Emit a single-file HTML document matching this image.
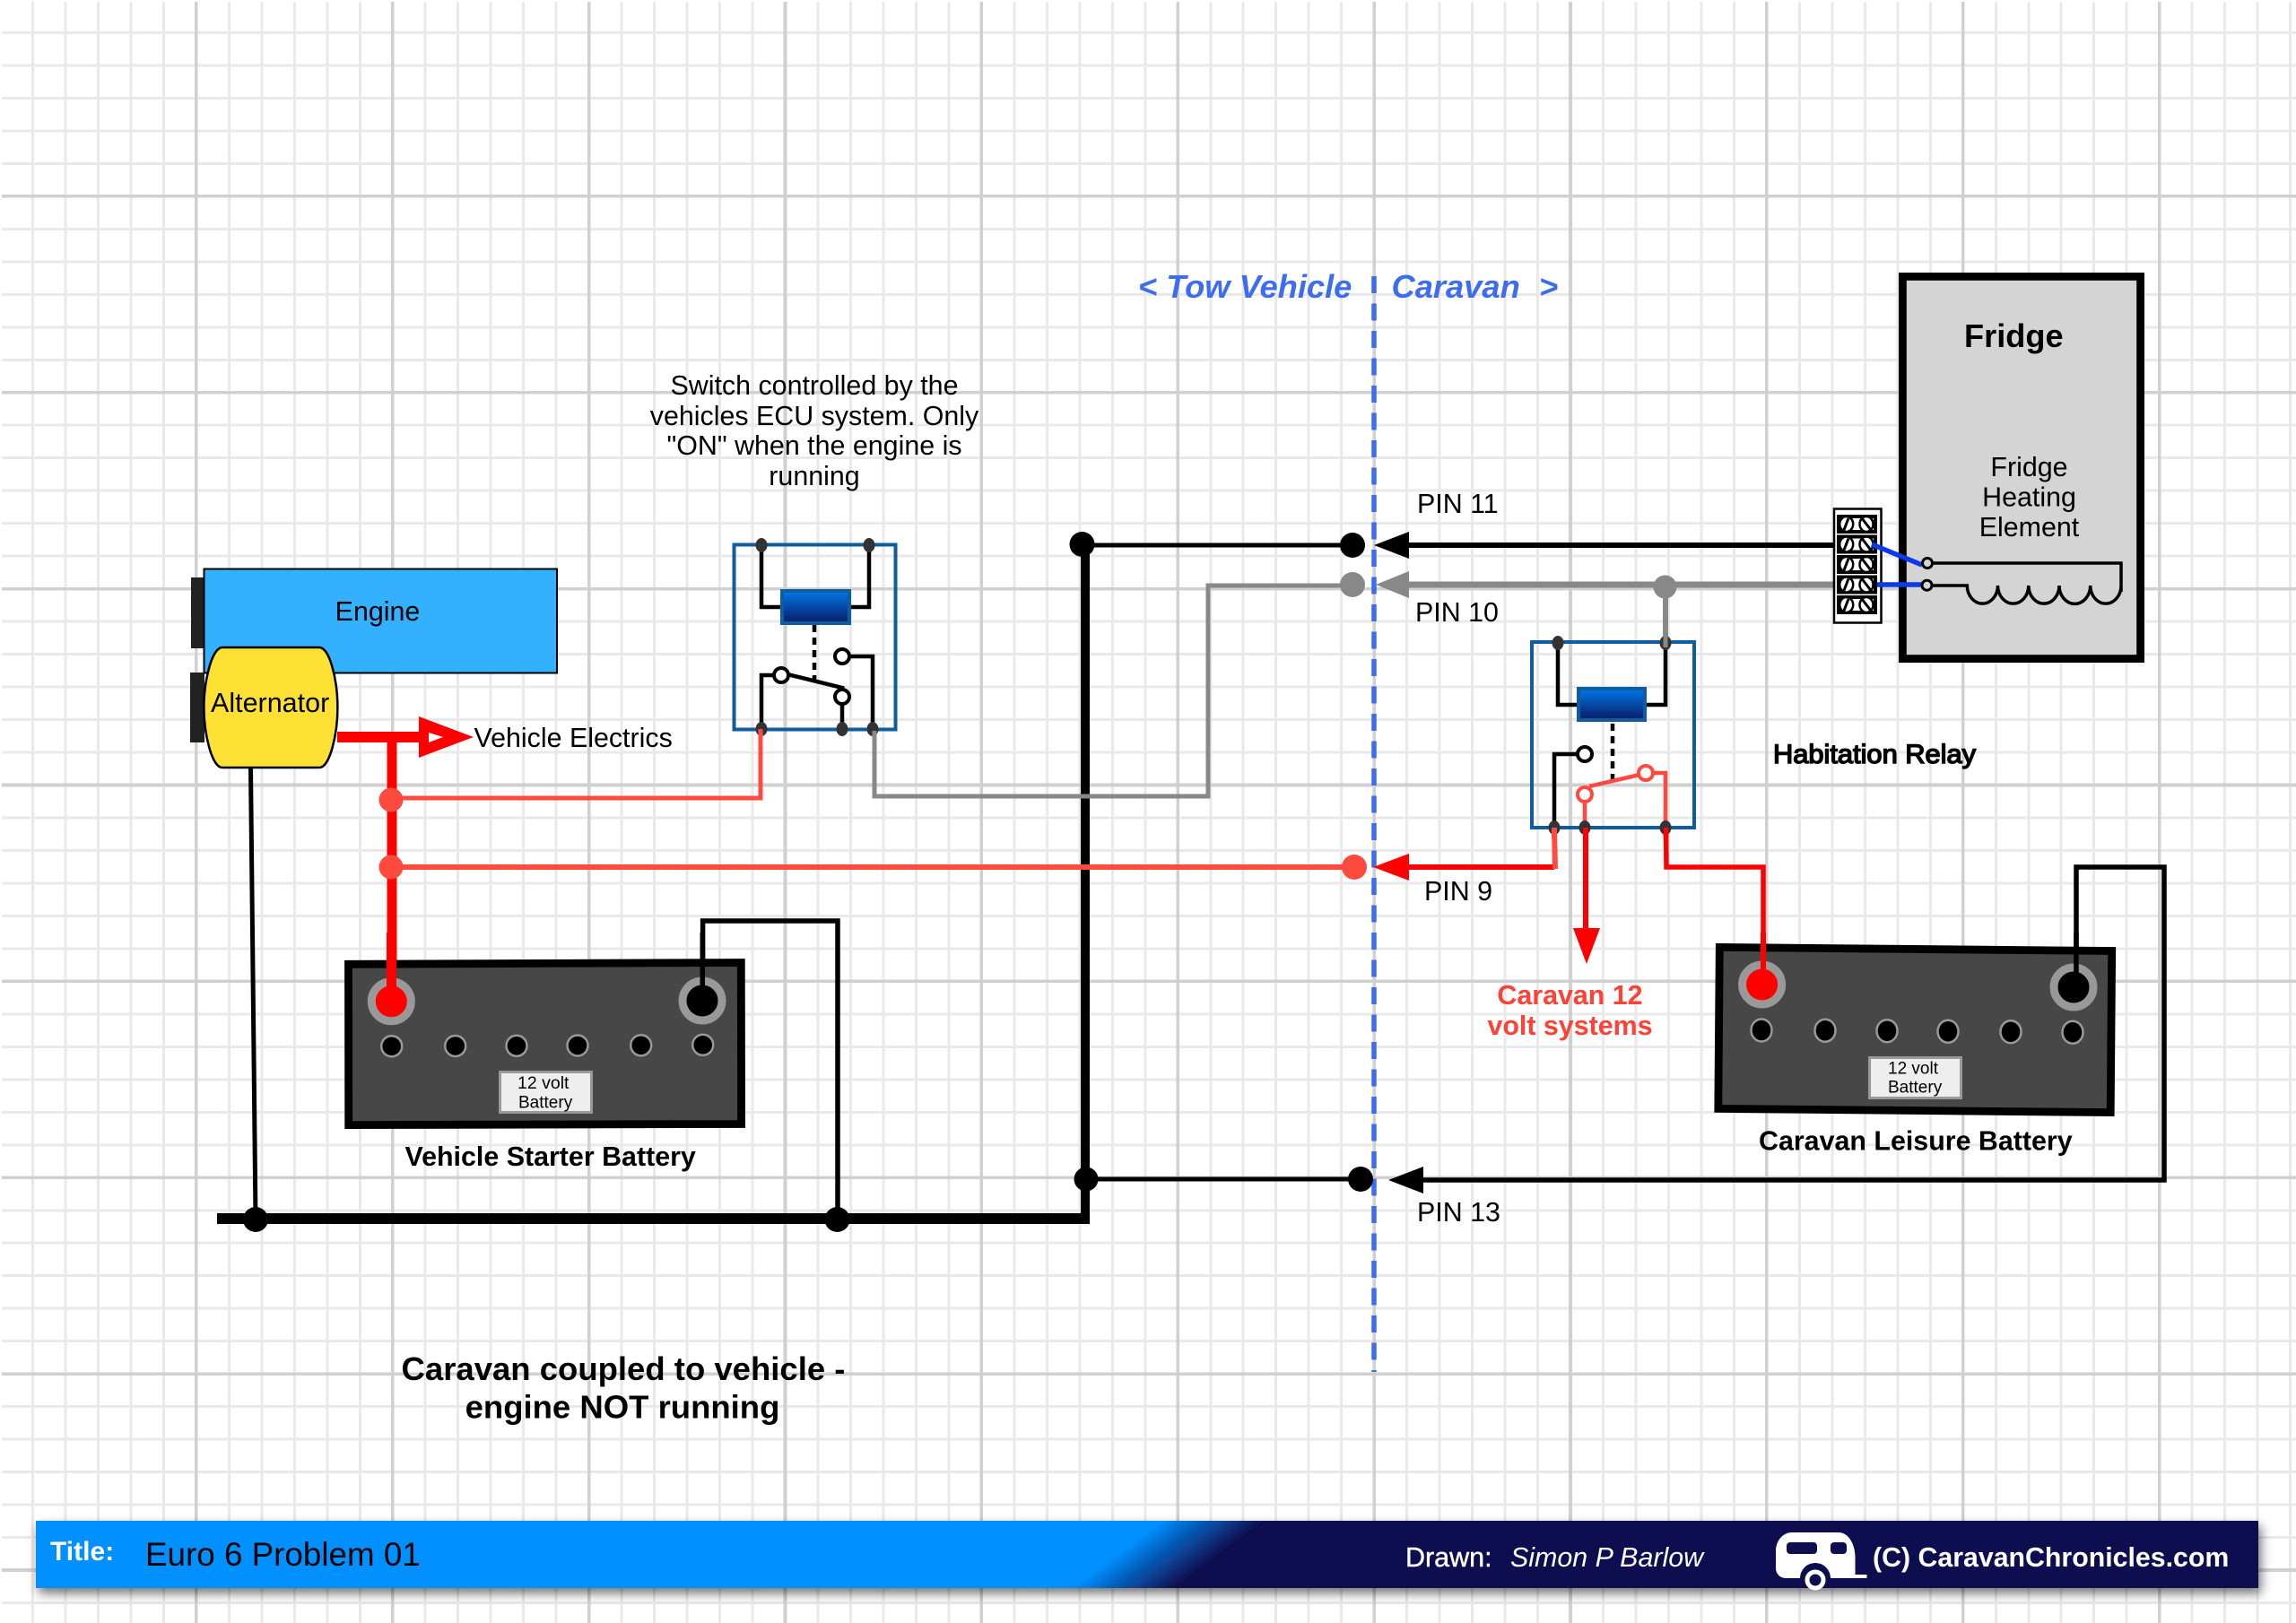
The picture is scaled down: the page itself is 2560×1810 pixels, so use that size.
<!DOCTYPE html>
<html lang="en">
<head>
<meta charset="utf-8">
<title>Euro 6 Problem 01</title>
<style>
html,body{margin:0;padding:0;background:#fff;}
body{width:2560px;height:1810px;overflow:hidden;position:relative;
background-color:#fff;
background-image:
repeating-linear-gradient(90deg,#d0d0d0 0 1.8px,transparent 1.8px 217.08px,#d0d0d0 217.08px 218.88px),
repeating-linear-gradient(180deg,#d0d0d0 0 1.8px,transparent 1.8px 217.08px,#d0d0d0 217.08px 218.88px),
repeating-linear-gradient(90deg,#e9e9e9 0 1.5px,transparent 1.5px 34.98px,#e9e9e9 34.98px 36.48px),
repeating-linear-gradient(180deg,#e9e9e9 0 1.5px,transparent 1.5px 34.98px,#e9e9e9 34.98px 36.48px);
}
svg{position:absolute;left:0;top:0;display:block;}
text{font-family:"Liberation Sans",Arial,sans-serif;fill:#000;}
.s30{font-size:30.4px;}
.b30{font-size:30.4px;font-weight:bold;}
.c{text-anchor:middle;}
.blue{font-size:36.3px;font-weight:bold;font-style:italic;fill:#3d6cf0;}
.w{fill:none;stroke:#000;stroke-width:4.5;stroke-linejoin:miter;stroke-linecap:square;}
.t{fill:#333;}
</style>
</head>
<body>
<svg width="2560" height="1810" viewBox="0 0 2560 1810" xmlns="http://www.w3.org/2000/svg">
<defs>
<linearGradient id="coil" x1="0" y1="0" x2="0" y2="1"><stop offset="0" stop-color="#0078e8"/><stop offset="1" stop-color="#0a1a66"/></linearGradient>
<linearGradient id="bar" gradientUnits="userSpaceOnUse" x1="1250" y1="1730" x2="1291" y2="1785"><stop offset="0" stop-color="#0090ff"/><stop offset="1" stop-color="#0d0f50"/></linearGradient>
<filter id="sh" x="-2%" y="-30%" width="104%" height="170%"><feDropShadow dx="3" dy="6" stdDeviation="6" flood-color="#000" flood-opacity="0.55"/></filter>
</defs>
<rect x="0" y="0" width="2" height="1810" fill="#fff"/>
<rect x="0" y="0" width="2560" height="2" fill="#fff"/>

<!-- Engine -->
<rect x="213" y="644" width="15" height="79" fill="#222"/>
<rect x="212" y="750" width="16" height="78" fill="#222"/>
<rect x="227.5" y="634.5" width="393.5" height="116" fill="#33b1ff" stroke="#000" stroke-width="2"/>
<text class="s30 c" x="421" y="692">Engine</text>
<path d="M248 722H356C368 722 376.4 760 376.4 789C376.4 818 368 856 356 856H248C236 856 227.4 818 227.4 789C227.4 760 236 722 248 722Z" fill="#ffe135" stroke="#000" stroke-width="2.5"/>
<text x="235" y="794" style="font-size:30.5px">Alternator</text>

<!-- Blue divider -->
<line x1="1532" y1="308" x2="1532" y2="1530" stroke="#3d6cf0" stroke-width="5.5" stroke-dasharray="19 11.5"/>
<text class="blue" x="1269" y="332">&lt; Tow Vehicle</text>
<text class="blue" x="1551.5" y="332">Caravan</text>
<text class="blue" x="1716" y="332">&gt;</text>

<!-- Black ground wiring -->
<path d="M279.5 856L285 1360" fill="none" stroke="#000" stroke-width="5"/>
<rect x="242" y="1353" width="968" height="12" fill="#000"/>
<rect x="1205" y="607" width="10" height="758" fill="#000"/>
<circle cx="1206.5" cy="607" r="14" fill="#000"/>
<line x1="1206" y1="608" x2="1508" y2="608" stroke="#000" stroke-width="5"/>
<circle cx="1508" cy="608" r="14" fill="#000"/>
<polygon points="1532,608 1571,593 1571,623" fill="#000"/>
<line x1="1571" y1="608" x2="2050" y2="608" stroke="#000" stroke-width="6"/>
<line x1="1211" y1="1315" x2="1517" y2="1315" stroke="#000" stroke-width="5"/>
<circle cx="1211" cy="1315" r="13.5" fill="#000"/>
<circle cx="1517" cy="1315" r="14" fill="#000"/>
<polygon points="1548,1316 1587,1301 1587,1331" fill="#000"/>
<path d="M1587 1316H2413V967H2315V1101" fill="none" stroke="#000" stroke-width="5.5"/>
<path d="M783.6 1116V1027H934V1360" fill="none" stroke="#000" stroke-width="5.5"/>
<ellipse cx="285" cy="1360" rx="14" ry="14" fill="#000"/>
<ellipse cx="933.5" cy="1360" rx="14" ry="14" fill="#000"/>

<!-- Gray wiring -->
<path d="M975 813V888H1347V653H1508" fill="none" stroke="#888" stroke-width="5"/>
<circle cx="1508" cy="652" r="14" fill="#888"/>
<polygon points="1534,652 1571,637 1571,667" fill="#888"/>
<line x1="1571" y1="652" x2="2050" y2="652" stroke="#888" stroke-width="7"/>
<circle cx="1856.5" cy="654.5" r="13" fill="#888"/>
<line x1="1857" y1="654" x2="1857" y2="717" stroke="#888" stroke-width="6"/>

<!-- Red main -->
<rect x="376" y="816" width="95" height="12" fill="#f00"/>
<path fill-rule="evenodd" d="M467 799L528 822L467 845ZM478 817V828L494 822Z" fill="#f00"/>
<rect x="431.5" y="822" width="11" height="295" fill="#f00"/>
<path d="M436 890H848V813" fill="none" stroke="#ff4a40" stroke-width="5"/>
<line x1="436" y1="967" x2="1510" y2="967" stroke="#ff4a40" stroke-width="6"/>
<circle cx="436" cy="892" r="13.5" fill="#ff4a40"/>
<circle cx="436" cy="967" r="13.5" fill="#ff4a40"/>
<circle cx="1510" cy="967" r="14" fill="#ff4a40"/>
<polygon points="1531,967 1571,952 1571,982" fill="#f00"/>
<path d="M1571 967H1733" fill="none" stroke="#f00" stroke-width="6"/>
<line x1="1733" y1="923" x2="1734" y2="969" stroke="#ff4a40" stroke-width="6"/>
<path d="M1857.5 923L1858 967H1966V1098" fill="none" stroke="#f00" stroke-width="5.5"/>
<line x1="1768" y1="923" x2="1768" y2="1040" stroke="#f00" stroke-width="6"/>
<polygon points="1754,1035 1784,1035 1769,1075" fill="#f00"/>

<!-- Relay 1 -->
<rect x="818.5" y="607.5" width="180" height="206" fill="none" stroke="#0f5c9f" stroke-width="4"/>
<path class="w" d="M849 608V677H870M948 677H969V608"/>
<rect x="872" y="659" width="75" height="36" fill="url(#coil)" stroke="#0f5c9f" stroke-width="4"/>
<line x1="908" y1="697" x2="908" y2="758" stroke="#000" stroke-width="4.5" stroke-dasharray="8 6"/>
<path class="w" d="M849 813V753H864M878 752L939 767M939 786V813M946 732H973V813"/>
<circle cx="871" cy="753" r="8" fill="#fff" stroke="#000" stroke-width="4"/>
<circle cx="939" cy="777" r="8" fill="#fff" stroke="#000" stroke-width="4"/>
<circle cx="939" cy="732" r="8" fill="#fff" stroke="#000" stroke-width="4"/>
<ellipse class="t" cx="849" cy="608" rx="6.5" ry="8"/>
<ellipse class="t" cx="969" cy="608" rx="6.5" ry="8"/>
<ellipse class="t" cx="849" cy="813" rx="6.5" ry="8"/>
<ellipse class="t" cx="939" cy="813" rx="6.5" ry="8"/>
<ellipse class="t" cx="973" cy="813" rx="6.5" ry="8"/>
<line x1="848" y1="813" x2="848" y2="825" stroke="#ff4a40" stroke-width="5"/>
<line x1="975" y1="815" x2="975" y2="830" stroke="#888" stroke-width="5"/>

<!-- Relay 2 -->
<rect x="1708" y="716" width="181" height="207" fill="none" stroke="#0f5c9f" stroke-width="4"/>
<path class="w" d="M1737 716V786H1758M1836 786H1857V720"/>
<rect x="1760" y="768" width="74" height="35" fill="url(#coil)" stroke="#0f5c9f" stroke-width="4"/>
<line x1="1798" y1="807" x2="1798" y2="871" stroke="#000" stroke-width="4.5" stroke-dasharray="8 6"/>
<path class="w" d="M1733 923V841H1759"/>
<circle cx="1767" cy="841" r="8" fill="#fff" stroke="#000" stroke-width="4"/>
<path d="M1767 895V923M1772 877L1828 864M1843 862H1857V923" fill="none" stroke="#ff4a40" stroke-width="4.5"/>
<circle cx="1767" cy="886" r="8" fill="#fff" stroke="#ff4a40" stroke-width="4"/>
<circle cx="1835" cy="862" r="8" fill="#fff" stroke="#ff4a40" stroke-width="4"/>
<ellipse class="t" cx="1737" cy="717" rx="6.5" ry="8"/>
<ellipse class="t" cx="1857" cy="717" rx="6.5" ry="8"/>
<line x1="1857" y1="700" x2="1857" y2="722" stroke="#888" stroke-width="5"/>
<ellipse class="t" cx="1733" cy="923" rx="6.5" ry="8"/>
<ellipse class="t" cx="1767" cy="923" rx="6.5" ry="8"/>
<ellipse class="t" cx="1857" cy="923" rx="6.5" ry="8"/>
<line x1="1733" y1="923" x2="1733" y2="935" stroke="#ff4a40" stroke-width="6"/>
<line x1="1768" y1="923" x2="1768" y2="935" stroke="#f00" stroke-width="6"/>
<line x1="1857.5" y1="923" x2="1857.5" y2="935" stroke="#f00" stroke-width="5.5"/>

<!-- Starter battery -->
<polygon points="388.5,1075.3 826.3,1073.5 826.6,1253.5 388.7,1254.6" fill="#474747" stroke="#000" stroke-width="8.8"/>
<circle cx="436.3" cy="1116.7" r="22" fill="#f00" stroke="#999" stroke-width="9"/>
<circle cx="783" cy="1116" r="22" fill="#000" stroke="#999" stroke-width="9"/>
<rect x="431" y="1040" width="11" height="78" fill="#f00"/>
<rect x="780.5" y="1040" width="5.5" height="78" fill="#000"/>
<g fill="#000" stroke="#999" stroke-width="2.5">
<circle cx="436.7" cy="1166.7" r="11.5"/><circle cx="507.7" cy="1166.5" r="11.5"/><circle cx="576" cy="1166.3" r="11.5"/><circle cx="644" cy="1166" r="11.5"/><circle cx="714.7" cy="1165.8" r="11.5"/><circle cx="783.7" cy="1165.3" r="11.5"/>
</g>
<rect x="557.5" y="1195.5" width="102" height="45" fill="#eee" stroke="#999" stroke-width="3"/>
<text x="577" y="1214" style="font-size:19.5px">12 volt</text>
<text x="578" y="1235.5" style="font-size:19px">Battery</text>
<text class="b30" x="451.5" y="1300">Vehicle Starter Battery</text>

<!-- Leisure battery -->
<polygon points="1917.3,1056.4 2354.7,1060.5 2353.2,1240.6 1915.8,1236.4" fill="#474747" stroke="#000" stroke-width="8.8"/>
<circle cx="1964.6" cy="1098" r="22" fill="#f00" stroke="#999" stroke-width="9"/>
<circle cx="2312" cy="1101" r="22" fill="#000" stroke="#999" stroke-width="9"/>
<rect x="1963" y="1040" width="6" height="58" fill="#f00"/>
<rect x="2312.2" y="1040" width="5.5" height="62" fill="#000"/>
<g fill="#000" stroke="#999" stroke-width="2.5">
<ellipse cx="1964" cy="1149" rx="11.5" ry="12.5"/><ellipse cx="2035" cy="1149.3" rx="11.5" ry="12.5"/><ellipse cx="2104" cy="1149.7" rx="11.5" ry="12.5"/><ellipse cx="2172" cy="1150.3" rx="11.5" ry="12.5"/><ellipse cx="2242" cy="1150.7" rx="11.5" ry="12.5"/><ellipse cx="2311" cy="1151.3" rx="11.5" ry="12.5"/>
</g>
<rect x="2084.5" y="1179.5" width="102" height="45" fill="#eee" stroke="#999" stroke-width="3"/>
<text x="2105" y="1197.5" style="font-size:19px">12 volt</text>
<text x="2105" y="1218.5" style="font-size:19px">Battery</text>
<text class="b30" x="1961" y="1282.5">Caravan Leisure Battery</text>

<!-- Fridge -->
<rect x="2121.4" y="308.4" width="265.2" height="426.2" fill="#d4d4d4" stroke="#000" stroke-width="8.8"/>
<text x="2190" y="387" style="font-size:36.2px;font-weight:bold">Fridge</text>
<text class="s30 c" x="2262.5" y="531">Fridge</text>
<text class="s30 c" x="2262.5" y="564.5">Heating</text>
<text class="s30 c" x="2262.5" y="598">Element</text>
<path d="M2155 628H2365V660M2154 653H2193.3A17 20 0 0 0 2227.5 653A17 20 0 0 0 2261.8 653A17 20 0 0 0 2296 653A17 20 0 0 0 2330.7 653A17 20 0 0 0 2365 653V628" fill="none" stroke="#000" stroke-width="3.5"/>
<rect x="2045" y="567.5" width="52.5" height="127" fill="#fff" stroke="#000" stroke-width="2.5"/>
<g>
<g fill="#fff" stroke="#000" stroke-width="4">
<rect x="2050" y="576" width="41" height="17"/><rect x="2050" y="598.5" width="41" height="17"/><rect x="2050" y="621" width="41" height="17"/><rect x="2050" y="643.5" width="41" height="17"/><rect x="2050" y="666" width="41" height="17"/>
</g>
<g fill="#fff" stroke="#000" stroke-width="2.5">
<ellipse cx="2058.7" cy="584.5" rx="7.5" ry="8.5"/><ellipse cx="2081" cy="584.5" rx="7.5" ry="8.5"/>
<ellipse cx="2058.7" cy="607" rx="7.5" ry="8.5"/><ellipse cx="2081" cy="607" rx="7.5" ry="8.5"/>
<ellipse cx="2058.7" cy="629.5" rx="7.5" ry="8.5"/><ellipse cx="2081" cy="629.5" rx="7.5" ry="8.5"/>
<ellipse cx="2058.7" cy="652" rx="7.5" ry="8.5"/><ellipse cx="2081" cy="652" rx="7.5" ry="8.5"/>
<ellipse cx="2058.7" cy="674.5" rx="7.5" ry="8.5"/><ellipse cx="2081" cy="674.5" rx="7.5" ry="8.5"/>
</g>
<path d="M2056 591L2061 578M2076 578L2086 591M2056 613.5L2061 600.5M2076 600.5L2086 613.5M2056 636L2061 623M2076 623L2086 636M2056 658.5L2061 645.5M2076 645.5L2086 658.5M2056 681L2061 668M2076 668L2086 681" fill="none" stroke="#000" stroke-width="3"/>
</g>
<path d="M2087 607L2143 630M2093 652H2143" fill="none" stroke="#0b3be8" stroke-width="5.5"/>
<circle cx="2149" cy="628" r="5.5" fill="#d4d4d4" stroke="#000" stroke-width="3"/>
<circle cx="2148.5" cy="652.7" r="5.5" fill="#d4d4d4" stroke="#000" stroke-width="3"/>

<!-- Labels -->
<text class="s30" x="1580" y="572">PIN 11</text>
<text class="s30" x="1578" y="693">PIN 10</text>
<text class="s30" x="1588" y="1004">PIN 9</text>
<text class="s30" x="1580" y="1362">PIN 13</text>
<text class="s30" x="528.5" y="833">Vehicle Electrics</text>
<text class="s30 c" x="908" y="440">Switch controlled by the</text>
<text class="s30 c" x="908" y="474">vehicles ECU system. Only</text>
<text class="s30 c" x="908" y="507">"ON" when the engine is</text>
<text class="s30 c" x="908" y="541">running</text>
<text x="1977" y="851" textLength="226" lengthAdjust="spacingAndGlyphs" style="font-size:30px;stroke:#000;stroke-width:1.5px">Habitation Relay</text>
<text class="b30 c" x="1750.5" y="1120" style="fill:#ff4136">Caravan 12</text>
<text class="b30 c" x="1750.5" y="1154" style="fill:#ff4136">volt systems</text>
<text class="c" x="695" y="1539" style="font-size:36.5px;font-weight:bold">Caravan coupled to vehicle -</text>
<text class="c" x="694" y="1581.5" style="font-size:36.5px;font-weight:bold">engine NOT running</text>

<!-- Footer -->
<rect x="40" y="1696" width="2478" height="75" fill="url(#bar)" filter="url(#sh)"/>
<text x="56" y="1740" style="font-size:30px;font-weight:bold;fill:#fff">Title:</text>
<text x="162" y="1746" style="font-size:36.8px">Euro 6 Problem 01</text>
<text x="1567" y="1747" style="font-size:30.5px;fill:#fff;stroke:#fff;stroke-width:.4px">Drawn:</text>
<text x="1684" y="1747" style="font-size:30.4px;font-style:italic;fill:#fff">Simon P Barlow</text>
<text x="2088" y="1747" style="font-size:30.3px;font-weight:bold;fill:#fff">(C) CaravanChronicles.com</text>
<path d="M2007 1760A17 17 0 0 1 2041 1760H2081.5V1756H2068.5V1735C2068 1722 2061 1709 2050 1709H1998C1988 1709 1980 1718 1980 1730V1748C1980 1755 1984 1760 1992 1760Z" fill="#fff"/>
<rect x="1992" y="1720" width="34" height="13" rx="4" fill="#0d0f50"/>
<rect x="2041" y="1720" width="18" height="13" rx="4" fill="#0d0f50"/>
<circle cx="2024" cy="1762" r="9" fill="#0d0f50" stroke="#fff" stroke-width="5"/>
</svg>
</body>
</html>
